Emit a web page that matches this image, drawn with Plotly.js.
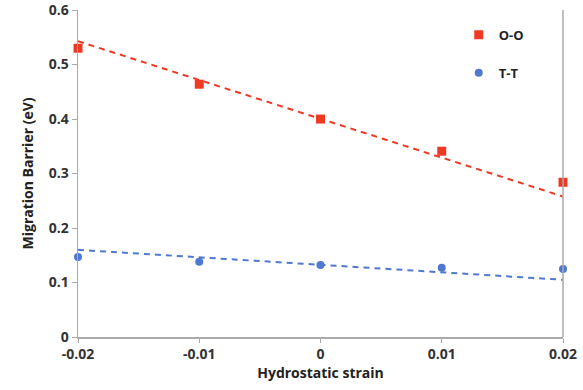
<!DOCTYPE html>
<html>
<head>
<meta charset="utf-8">
<script src="https://cdn.plot.ly/plotly-3.0.1.min.js"></script>
<style>html,body{margin:0;padding:0;background:#fff;}#chart{width:583px;height:390px;}</style>
</head>
<body>
<div id="chart"></div>
<script>
const strain = [-0.02, -0.01, 0, 0.01, 0.02];
const ooBarrier = [0.530, 0.464, 0.400, 0.341, 0.284];
const ttBarrier = [0.147, 0.138, 0.132, 0.127, 0.125];
const trendX = [-0.02, 0.02];
const ooTrend = [0.543, 0.258];
const ttTrend = [0.160, 0.105];
const xTicks = [-0.02, -0.01, 0, 0.01, 0.02];
const xTickText = ['-0.02', '-0.01', '0', '0.01', '0.02'];
const yTicks = [0, 0.1, 0.2, 0.3, 0.4, 0.5, 0.6];
const yTickText = ['0', '0.1', '0.2', '0.3', '0.4', '0.5', '0.6'];

const red = '#EE3A24';
const blue = '#4F78CF';
const font = 'Open Sans, Liberation Sans, Arial, sans-serif';

const traces = [
  {x: trendX, y: ooTrend, mode: 'lines', line: {color: red, width: 2, dash: '6px,5px'}, showlegend: false, hoverinfo: 'skip', cliponaxis: false},
  {x: trendX, y: ttTrend, mode: 'lines', line: {color: blue, width: 2, dash: '6px,5px'}, showlegend: false, hoverinfo: 'skip', cliponaxis: false},
  {x: strain, y: ooBarrier, name: 'O-O', mode: 'markers', legendgroup: 'a', cliponaxis: false, marker: {symbol: 'square', size: 9, color: red}},
  {x: strain, y: ttBarrier, name: 'T-T', mode: 'markers', legendgroup: 'b', cliponaxis: false, marker: {symbol: 'circle', size: 8, color: blue}}
];

const layout = {
  width: 583, height: 390,
  margin: {l: 78, r: 20, t: 10, b: 53},
  paper_bgcolor: '#fff', plot_bgcolor: '#fff',
  font: {family: font, color: '#333'},
  showlegend: true,
  legend: {x: 0.785, y: 0.97, xanchor: 'left', yanchor: 'top', tracegroupgap: 18, itemwidth: 30,
           font: {size: 13, color: '#222', family: font, weight: 'bold'}, bgcolor: 'rgba(0,0,0,0)'},
  xaxis: {
    range: [-0.02, 0.02], tickvals: xTicks, ticktext: xTickText,
    showgrid: false, zeroline: false, showline: true, linecolor: '#aaa', linewidth: 1.5,
    ticks: 'outside', ticklen: 4, tickcolor: '#aaa',
    tickfont: {size: 14, color: '#333', family: font, weight: 'bold'},
    title: {text: 'Hydrostatic strain', font: {size: 14, color: '#222', family: font, weight: 'bold'}, standoff: 6}
  },
  yaxis: {
    range: [0, 0.6002], tickvals: yTicks, ticktext: yTickText,
    showgrid: false, zeroline: false, showline: true, linecolor: '#aaa', linewidth: 1.5,
    ticks: 'outside', ticklen: 5, tickcolor: '#aaa',
    tickfont: {size: 14, color: '#333', family: font, weight: 'bold'},
    title: {text: 'Migration Barrier (eV)', font: {size: 14, color: '#222', family: font, weight: 'bold'}, standoff: 12}
  },
  shapes: [
    {type: 'line', xref: 'paper', yref: 'paper', x0: 1, x1: 1, y0: 0, y1: 1, line: {color: '#aaa', width: 1.5}}
  ]
};

Plotly.newPlot('chart', traces, layout, {displayModeBar: false, staticPlot: true});
</script>
</body>
</html>
